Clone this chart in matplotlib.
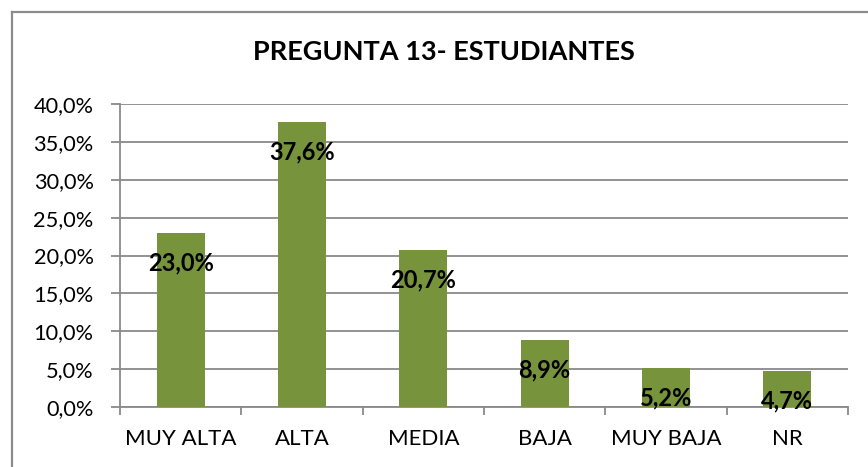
import matplotlib
matplotlib.use("Agg")
import matplotlib.pyplot as plt
from matplotlib.lines import Line2D
import numpy as np

# Data
categories = ['MUY ALTA', 'ALTA', 'MEDIA', 'BAJA', 'MUY BAJA', 'NR']
values = [23.0, 37.6, 20.7, 8.9, 5.2, 4.7]
y_ticks = [0, 5, 10, 15, 20, 25, 30, 35, 40]

BAR_COLOR = '#77933C'
GRID_COLOR = '#898989'

plt.rcParams['font.family'] = ['Lato', 'DejaVu Sans']

fig = plt.figure(figsize=(8.68, 4.67), dpi=100)
ax = fig.add_axes([120 / 868, 1 - 407 / 467, (848 - 120) / 868, (407 - 104) / 467])

x = np.arange(len(categories))
ax.bar(x, values, width=0.395, color=BAR_COLOR, zorder=3)

for xi, v in zip(x, values):
    ax.annotate(f'{v:.1f}%'.replace('.', ','), xy=(xi, v), xytext=(0, -21.5),
                textcoords='offset points', ha='center', va='center',
                fontsize=17, fontweight='bold', color='black', zorder=4)

ax.set_xlim(-0.5, len(categories) - 0.5)
ax.set_ylim(0, 40)
ax.set_yticks(y_ticks)
ax.set_yticklabels([f'{t:.1f}%'.replace('.', ',') for t in y_ticks], fontsize=15.7)
ax.yaxis.grid(True, color=GRID_COLOR, linewidth=1.3, zorder=0)
ax.tick_params(axis='y', length=6.5, width=1.3, color=GRID_COLOR, pad=12.5)

# category labels centered, boundary tick marks below the axis
ax.set_xticks(x)
ax.set_xticklabels(categories, fontsize=16)
ax.tick_params(axis='x', which='major', length=0, pad=16)
ax.set_xticks(np.arange(-0.5, len(categories)), minor=True)
ax.tick_params(axis='x', which='minor', length=5.5, width=1.3, color=GRID_COLOR)

for side in ['top', 'right']:
    ax.spines[side].set_visible(False)
for side in ['left', 'bottom']:
    ax.spines[side].set_color(GRID_COLOR)
    ax.spines[side].set_linewidth(1.3)

fig.text(444 / 868, 1 - 52 / 467, 'PREGUNTA 13- ESTUDIANTES', ha='center', va='center',
         fontsize=19.5, fontweight='bold')

# chart frame (left and top edges visible)
fig.add_artist(Line2D([11.5 / 868, 11.5 / 868], [0, 1 - 12 / 467], transform=fig.transFigure,
                      color='#8c8c8c', linewidth=1.6))
fig.add_artist(Line2D([11.5 / 868, 1], [1 - 12 / 467, 1 - 12 / 467], transform=fig.transFigure,
                      color='#8c8c8c', linewidth=1.6))

fig.savefig('out.png', dpi=100)
